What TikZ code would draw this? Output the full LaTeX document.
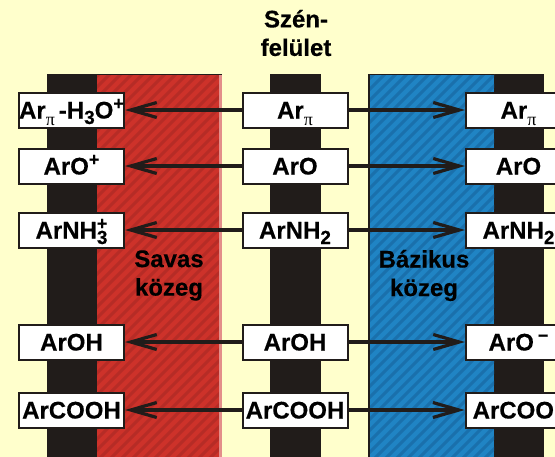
\documentclass[tikz,border=0pt]{standalone}
\usepackage{fontspec}
\setmainfont[BoldFeatures={FakeBold=0.35}]{Liberation Sans}
\usetikzlibrary{arrows.meta}
\definecolor{bgy}{RGB}{255,255,204}
\definecolor{ink}{RGB}{33,28,26}
\definecolor{redm}{RGB}{205,50,42}
\definecolor{redd}{RGB}{182,44,38}
\definecolor{blum}{RGB}{32,132,196}
\definecolor{blud}{RGB}{26,112,172}
\newcommand{\lowtxt}[1]{\raisebox{-5.5pt}{\fontsize{19}{19}\selectfont #1}}
\newcommand{\hightxt}[1]{\raisebox{9pt}{\fontsize{18}{18}\selectfont #1}}
\newfontfamily\pifont{Liberation Serif}
\newcommand{\pisub}{\raisebox{-7pt}{\fontsize{18}{18}\selectfont\pifont\mdseries π}}
\newcommand{\bothtxt}[2]{\rlap{\lowtxt{#1}}\hightxt{#2}}
\tikzset{
  x=1pt,y=-1pt,
  chem/.style={draw=ink,line width=2pt,fill=white,minimum width=105pt,minimum height=35pt,inner sep=0pt,text height=17pt,text depth=0pt,font=\fontsize{24}{26}\selectfont\bfseries,text=black,anchor=center},
  conn/.style={draw=ink,line width=3.2pt,-{Straight Barb[length=26pt,width=15pt,line width=3.2pt]}},
  captext/.style={font=\fontsize{24}{28.5}\selectfont\bfseries,text=black,align=center,inner sep=0pt},
  bar/.style={fill=ink,draw=none},
  hatch/.style={line width=3pt}
}
\newcommand{\hatchlines}[3]{%
  \begin{scope}
    \clip (#1,74) rectangle (#2,458);
    \foreach \s in {0,11,...,990}{
      \draw[hatch,#3] (\s,74) -- ++(-400,400);
    }
  \end{scope}}
\begin{document}
\begin{tikzpicture}
\useasboundingbox (0,0) rectangle (555,456);
\begin{scope}
\clip (0,0) rectangle (555,458);
\fill[bgy] (0,0) rectangle (555,458);
% bars
\fill[bar] (47,74) rectangle (98,458);
\fill[bar] (270,74) rectangle (321,458);
\fill[bar] (494,74) rectangle (544,458);
% acid zone
\fill[redm] (97,74) rectangle (222,458);
\hatchlines{97}{220}{redd}
\fill[white!45!redm] (219,74) rectangle (222,458);
\draw[ink,line width=1.6pt] (47,74.5) -- (222,74.5);
% base zone
\fill[blum] (368,74) rectangle (494,458);
\hatchlines{369}{494}{blud}
\draw[ink,line width=2pt] (369,74) -- (369,458);
\draw[ink,line width=1.6pt] (368,74.5) -- (494,74.5);
% captions
\node[captext] (title) at (296,33) {Szén-\\felület};
\node[captext] (acid) at (169,275.5) {Savas\\közeg};
\node[captext] (base) at (424,275.5) {Bázikus\\közeg};
% boxes
\node[chem] (l1) at (71.5,110) {Ar\pisub\,-H\lowtxt{3}O\hightxt{+}};
\node[chem] (l2) at (71.5,166) {ArO\hightxt{+}};
\node[chem] (l3) at (71.5,230) {ArNH\bothtxt{3}{+}};
\node[chem] (l4) at (71.5,342) {ArOH};
\node[chem] (l5) at (71.5,410) {ArCOOH};
\node[chem] (m1) at (295,110) {Ar\pisub};
\node[chem] (m2) at (295,166) {ArO};
\node[chem] (m3) at (295,230) {ArNH\lowtxt{2}};
\node[chem] (m4) at (295,342) {ArOH};
\node[chem] (m5) at (295,410) {ArCOOH};
\node[chem] (r1) at (518.5,110) {Ar\pisub};
\node[chem] (r2) at (518.5,166) {ArO};
\node[chem] (r3) at (518.5,230) {ArNH\lowtxt{2}};
\node[chem] (r4) at (518.5,342) {ArO\,\hightxt{−}};
\node[chem] (r5) at (518.5,410) {\hspace*{7pt}ArCOOH};
% connectors
\foreach \i in {1,...,5}{
  \draw[conn] (m\i.west) -- (l\i.east);
  \draw[conn] (m\i.east) -- (r\i.west);
}
\end{scope}
\end{tikzpicture}
\end{document}
